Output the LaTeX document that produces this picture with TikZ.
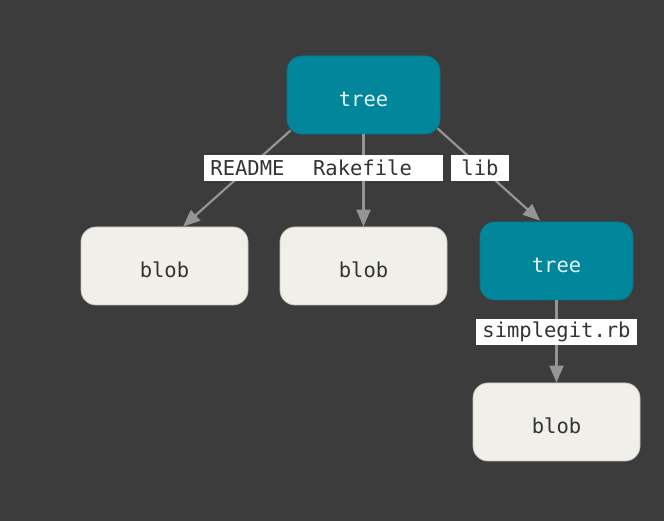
\documentclass[tikz,border=0pt]{standalone}
\usepackage{fontspec}
\setmonofont{DejaVu Sans Mono}
\usetikzlibrary{arrows.meta,calc}
\definecolor{bg}{HTML}{3C3C3C}
\definecolor{treefill}{HTML}{02869C}
\definecolor{treeline}{HTML}{0A7488}
\definecolor{treetext}{HTML}{E4F2F2}
\definecolor{blobfill}{HTML}{F0EFEA}
\definecolor{blobline}{HTML}{C4C3BC}
\definecolor{inktext}{HTML}{333333}
\definecolor{edgegray}{HTML}{959595}
\tikzset{
  objbox/.style={rounded corners=15pt, minimum height=78pt, inner sep=0pt,
    text height=22.5pt, text depth=0pt,
    font=\ttfamily\fontsize{20.5}{24}\selectfont, line width=0.8pt},
  treebox/.style={objbox, fill=treefill, draw=treeline, text=treetext, minimum width=153pt},
  blobbox/.style={objbox, fill=blobfill, draw=blobline, text=inktext, minimum width=167pt},
  namebox/.style={fill=white, text=inktext, inner sep=0pt, minimum height=26pt,
    font=\ttfamily\fontsize{20.5}{24}\selectfont},
  link/.style={draw=edgegray, line width=2.2pt,
    -{Triangle[length=17pt,width=14pt,fill=edgegray]}}
}
\begin{document}
\begin{tikzpicture}[x=1pt,y=1pt]
  \fill[bg] (0,0) rectangle (664,521);
  \useasboundingbox (0,0) rectangle (664,521);

  % objects
  \node[treebox] (root) at (363.5,426) {tree};
  \node[blobbox] (readme) at (164.5,255) {blob};
  \node[blobbox] (rake) at (363.5,255) {blob};
  \node[treebox] (lib) at (556.5,260) {tree};
  \node[blobbox] (sg) at (556.5,99) {blob};

  % edges
  \draw[link] ($(root.south west)+(4,4)$) -- ($(readme.north)+(18.5,0)$);
  \draw[link] (root.south) -- (rake.north);
  \draw[link] ($(root.south east)+(-3,6)$) -- ($(lib.north)+(-16.5,1)$);
  \draw[link] (lib.south) -- (sg.north);

  % entry names
  \node[namebox, minimum width=161pt] (nrake) at (362.5,353) {Rakefile};
  \node[namebox, minimum width=87pt] (nreadme) at (247.5,353) {README};
  \node[namebox, minimum width=58pt] (nlib) at (480,353) {lib};
  \node[namebox, minimum width=161pt] (nsg) at (556.5,189) {simplegit.rb};
\end{tikzpicture}
\end{document}
